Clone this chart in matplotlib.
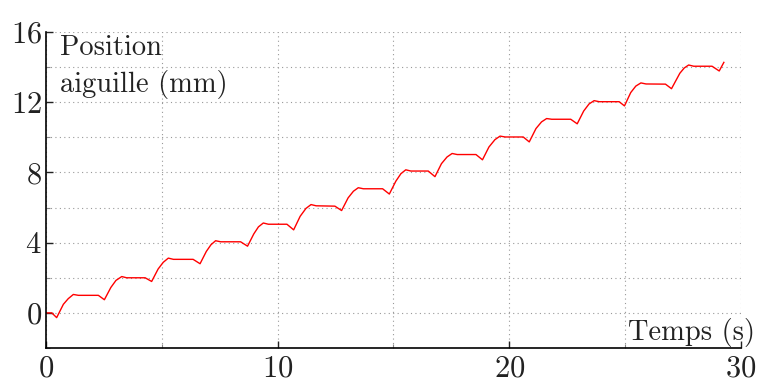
import matplotlib
matplotlib.use("Agg")
import matplotlib.pyplot as plt
from matplotlib.ticker import MultipleLocator

plt.rcParams['font.family'] = ['cmr10', 'DejaVu Serif']
plt.rcParams['axes.formatter.use_mathtext'] = True

# Data
temps = [0.0, 0.25, 0.46, 0.75, 0.96, 1.18, 1.40,
         2.26, 2.52, 2.80, 3.02, 3.27, 3.48,
         4.28, 4.56, 4.84, 5.06, 5.28, 5.50,
         6.35, 6.65, 6.92, 7.12, 7.32, 7.54,
         8.40, 8.70, 8.97, 9.17, 9.38, 9.60,
         10.40, 10.69, 10.97, 11.22, 11.44, 11.66,
         12.47, 12.76, 13.04, 13.27, 13.48, 13.70,
         14.53, 14.82, 15.10, 15.32, 15.53, 15.75,
         16.50, 16.79, 17.07, 17.31, 17.53, 17.75,
         18.56, 18.84, 19.12, 19.38, 19.60, 19.82,
         20.60, 20.86, 21.15, 21.39, 21.61, 21.83,
         22.65, 22.93, 23.21, 23.44, 23.66, 23.88,
         24.74, 24.97, 25.24, 25.46, 25.68, 25.90,
         26.74, 27.00, 27.36, 27.55, 27.74, 27.96,
         28.75, 29.06, 29.26]
position = [0.0, 0.0, -0.27, 0.49, 0.81, 1.05, 1.0,
            1.0, 0.75, 1.45, 1.85, 2.07, 2.0,
            2.0, 1.79, 2.5, 2.88, 3.12, 3.05,
            3.05, 2.8, 3.5, 3.88, 4.11, 4.05,
            4.05, 3.8, 4.5, 4.9, 5.12, 5.05,
            5.05, 4.73, 5.5, 5.95, 6.17, 6.1,
            6.08, 5.83, 6.55, 6.93, 7.13, 7.07,
            7.07, 6.77, 7.5, 7.93, 8.15, 8.08,
            8.08, 7.76, 8.5, 8.88, 9.08, 9.02,
            9.02, 8.72, 9.45, 9.87, 10.07, 10.02,
            10.02, 9.74, 10.5, 10.88, 11.07, 11.03,
            11.03, 10.77, 11.5, 11.9, 12.09, 12.03,
            12.03, 11.79, 12.55, 12.92, 13.10, 13.04,
            13.03, 12.77, 13.65, 13.95, 14.12, 14.05,
            14.05, 13.78, 14.27]
xticks = [0, 10, 20, 30]
yticks = [0, 4, 8, 12, 16]

fig = plt.figure(figsize=(7.59, 3.81), dpi=100)
ax = fig.add_axes([46/759, 1-348/381, 695/759, 316/381])
ax.plot(temps, position, color='red', lw=1.0)
ax.set_xlim(0, 30)
ax.set_ylim(-2, 16)
ax.set_xticks(xticks)
ax.set_yticks(yticks)
ax.xaxis.set_minor_locator(MultipleLocator(5))
ax.yaxis.set_minor_locator(MultipleLocator(2))
ax.grid(True, which='both', linestyle=(0, (1, 3)), color='#999999', lw=0.8)
for s in ['top', 'right']:
    ax.spines[s].set_visible(False)
for s in ['left', 'bottom']:
    ax.spines[s].set_linewidth(1.2)
ax.tick_params(which='both', direction='in', labelsize=22, colors='#222222')
ax.tick_params(which='major', length=5, width=1.0)
ax.tick_params(axis='x', which='major', pad=5)
ax.tick_params(axis='y', which='major', pad=3)
ax.tick_params(which='minor', length=3, width=0.8, color='#888888')
ax.set_axisbelow(True)

ax.text(14/695, 0.99, "Position\naiguille (mm)", transform=ax.transAxes,
        ha='left', va='top', fontsize=20.5, linespacing=1.38, color='#222222')
fig.text(755/759, 1-340/381, "Temps (s)", ha='right', va='baseline',
         fontsize=20.5, color='#222222')

fig.savefig("out.png", dpi=100)
